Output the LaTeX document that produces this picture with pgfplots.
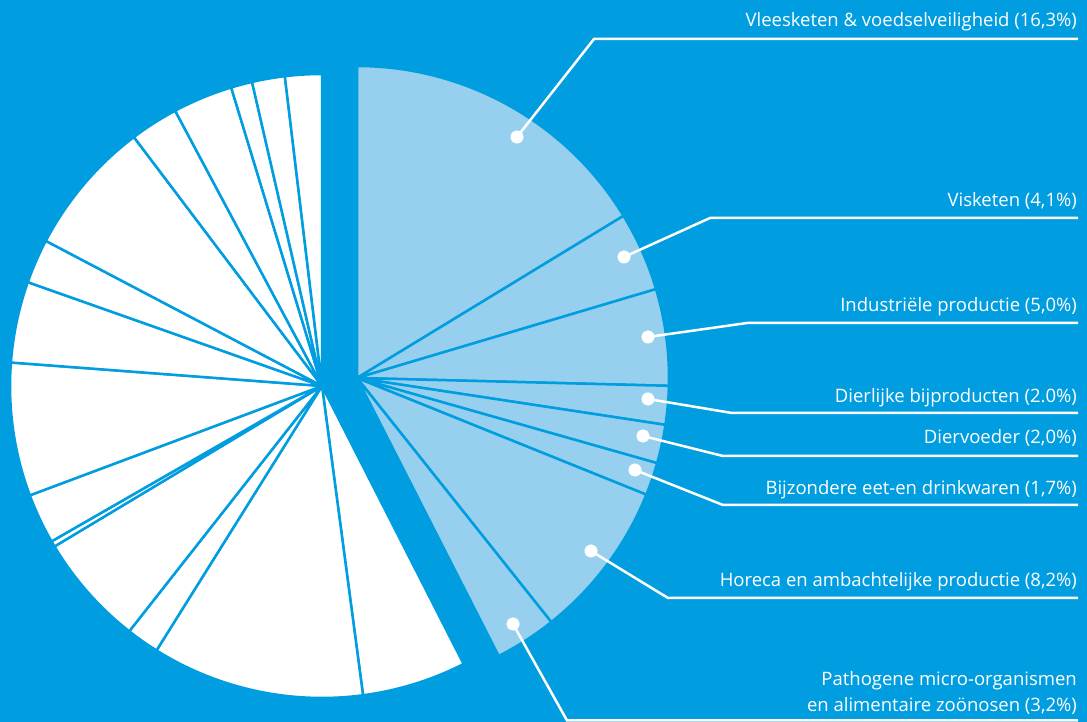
\documentclass[border=0pt]{standalone}
\usepackage{pgfplots}
\pgfplotsset{compat=1.18}
\usepackage{pgfplotstable}
\usepackage{fontspec}
\setmainfont{Open Sans}
\definecolor{bgblue}{HTML}{009EE0}
\definecolor{lightblue}{HTML}{96D0EE}

% shares (%), clockwise from 12 o'clock
\pgfplotstableread{
share
16.3
4.1
5.0
2.0
2.0
1.7
8.2
3.2
}\bluetable
\pgfplotstableread{
share
5.4
11.0
1.7
5.8
0.3
2.6
6.9
4.2
2.3
7.0
2.5
3.1
1.1
1.7
1.9
}\whitetable

\newcommand\drawslices[5]{%
  \pgfplotstablegetrowsof{#1}%
  \pgfmathtruncatemacro\lastrow{\pgfplotsretval-1}%
  \xdef\cum{#5}%
  \foreach \r in {0,...,\lastrow}{%
    \pgfplotstablegetelem{\r}{share}\of{#1}%
    \pgfmathsetmacro\aS{90-3.6*\cum}%
    \pgfmathsetmacro\aE{90-3.6*(\cum+\pgfplotsretval)}%
    \pgfmathsetmacro\newcum{\cum+\pgfplotsretval}%
    \xdef\cum{\newcum}%
    \edef\temp{\noexpand\fill[#4, draw=bgblue, line width=2.5pt, line join=round] (axis cs:#2,#3) -- ++(\aS:312pt) arc[start angle=\aS, end angle=\aE, radius=312pt] -- cycle;}%
    \temp
  }%
}

\begin{document}
\begin{tikzpicture}
\fill[bgblue] (0,0) rectangle (1087pt,722pt);
\useasboundingbox (0,0) rectangle (1087pt,722pt);
\begin{axis}[
  x=1pt, y=1pt,
  xmin=0, xmax=1087, ymin=0, ymax=722,
  scale only axis,
  hide axis,
  clip=false,
]
\drawslices{\bluetable}{357}{344}{lightblue}{0}
\drawslices{\whitetable}{322}{336}{white}{42.5}

% leader lines
\addplot[white, line width=2.5pt, mark=none] coordinates {(517,585) (594,683) (1078,683)};
\addplot[white, line width=2.5pt, mark=none] coordinates {(624,465) (710,504) (1078,504)};
\addplot[white, line width=2.5pt, mark=none] coordinates {(648,385) (747,399) (1078,399)};
\addplot[white, line width=2.5pt, mark=none] coordinates {(648,323) (732,309) (1078,309)};
\addplot[white, line width=2.5pt, mark=none] coordinates {(643,286) (723,266) (1078,266)};
\addplot[white, line width=2.5pt, mark=none] coordinates {(635,252) (723,217) (1078,217)};
\addplot[white, line width=2.5pt, mark=none] coordinates {(591,171) (668,124) (1078,124)};
\addplot[white, line width=2.5pt, mark=none] coordinates {(513,98) (567,1.5) (1078,1.5)};
% dots
\addplot[only marks, mark=*, mark size=6.3pt, mark options={fill=white, draw=white, line width=0.2pt}]
  coordinates {(517,585) (624,465) (648,385) (648,323) (643,286) (635,252) (591,171) (513,98)};

% labels
\begin{scope}[every node/.style={anchor=base east, inner sep=0pt, text=white, font=\fontsize{18.5}{24}\selectfont}]
\node at (axis cs:1077,695) {Vleesketen \& voedselveiligheid (16,3\%)};
\node at (axis cs:1077,515) {Visketen (4,1\%)};
\node at (axis cs:1077,410) {Industriële productie (5,0\%)};
\node at (axis cs:1077,319) {Dierlijke bijproducten (2.0\%)};
\node at (axis cs:1077,278) {Diervoeder (2,0\%)};
\node at (axis cs:1077,227) {Bijzondere eet-en drinkwaren (1,7\%)};
\node at (axis cs:1077,135) {Horeca en ambachtelijke productie (8,2\%)};
\node at (axis cs:1077,36) {Pathogene micro-organismen};
\node at (axis cs:1077,10) {en alimentaire zoönosen (3,2\%)};
\end{scope}
\end{axis}
\end{tikzpicture}
\end{document}
